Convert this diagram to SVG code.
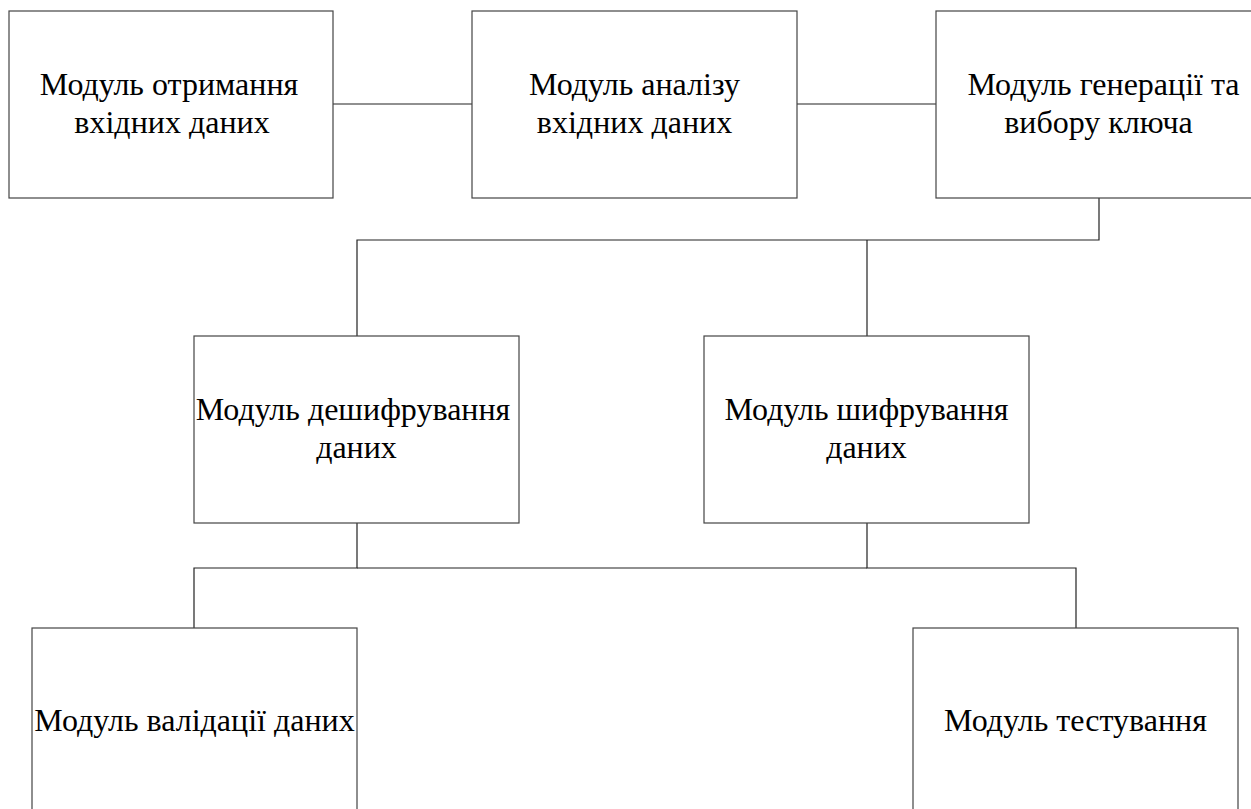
<svg xmlns="http://www.w3.org/2000/svg" width="1251" height="809" viewBox="0 0 1251 809">
<style>
.box{fill:#fff;stroke:#444;stroke-width:1.2}
.conn{fill:none;stroke:#222;stroke-width:1.2}
text{font-family:"Liberation Serif","Times New Roman",serif;font-size:32px;fill:#000;text-anchor:middle}
</style>
<rect width="1251" height="809" fill="#fff"/>
<g id="connectors">
<line class="conn" x1="333" y1="104" x2="472" y2="104"/>
<line class="conn" x1="797" y1="104" x2="936" y2="104"/>
<polyline class="conn" points="1099,198 1099,240 357,240 357,336"/>
<line class="conn" x1="867" y1="240" x2="867" y2="336"/>
<polyline class="conn" points="357,523 357,568 194,568 194,628"/>
<line class="conn" x1="357" y1="568" x2="867" y2="568"/>
<polyline class="conn" points="867,523 867,568 1076,568 1076,628"/>
</g>
<g id="n1"><rect class="box" x="9" y="11" width="324" height="187"/><text x="169" y="95">Модуль отримання</text><text x="172" y="133">вхідних даних</text></g>
<g id="n2"><rect class="box" x="472" y="11" width="325" height="187"/><text x="634.5" y="95">Модуль аналізу</text><text x="634.5" y="133">вхідних даних</text></g>
<g id="n3"><rect class="box" x="936" y="11" width="325" height="187"/><text x="1103.5" y="95">Модуль генерації та</text><text x="1098.5" y="133">вибору ключа</text></g>
<g id="n4"><rect class="box" x="194" y="336" width="325" height="187"/><text x="353" y="420">Модуль дешифрування</text><text x="356.5" y="458">даних</text></g>
<g id="n5"><rect class="box" x="704" y="336" width="325" height="187"/><text x="866.5" y="420">Модуль шифрування</text><text x="866.5" y="458">даних</text></g>
<g id="n6"><rect class="box" x="32" y="628" width="325" height="200"/><text x="194.5" y="731">Модуль валідації даних</text></g>
<g id="n7"><rect class="box" x="913" y="628" width="325" height="200"/><text x="1075.5" y="731">Модуль тестування</text></g>
</svg>
